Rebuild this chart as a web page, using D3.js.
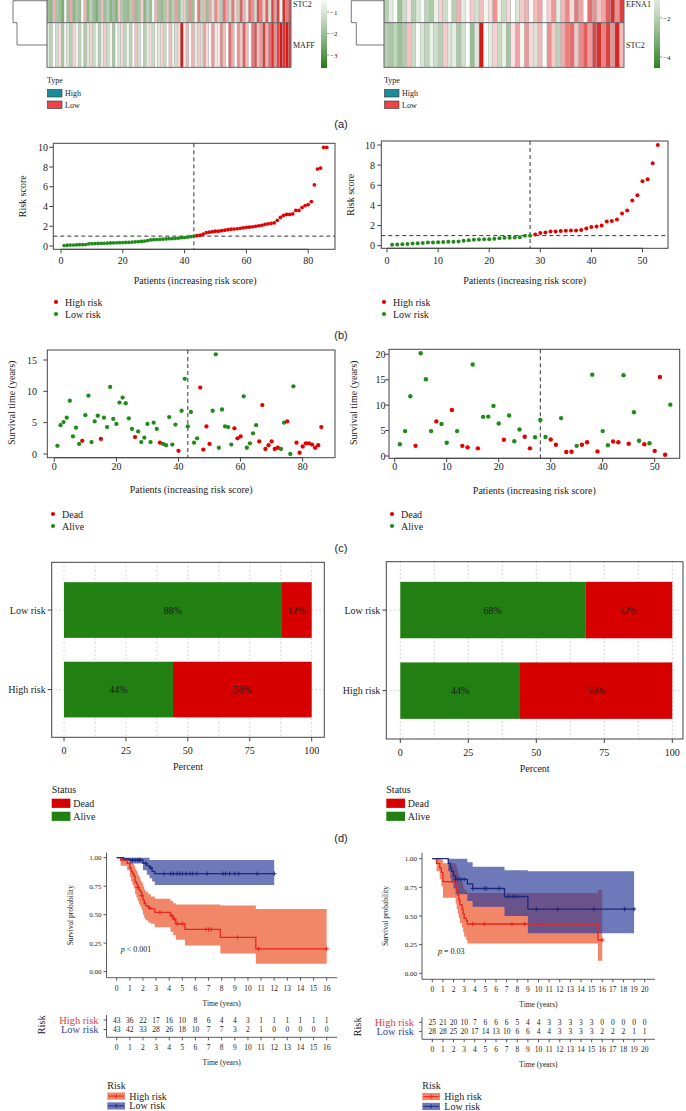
<!DOCTYPE html>
<html><head><meta charset="utf-8">
<script src="https://cdn.jsdelivr.net/npm/d3@7"></script>
<style>body{margin:0;background:#fff;} svg{display:block;}</style>
</head><body><svg id="c" width="686" height="1111"></svg>
<script>
// ---------------- DATA ----------------
// (a) heatmaps (expression per patient, ordered by risk)
const heatA_genes = ["STC2", "MAFF"];
const heatA_STC2 = [-2,-2.2,1,-1.8,-2,-2.5,-0.5,-2,1.2,-2.2,-1.8,-2,-0.3,1,-2.2,-1.5,-2,-2.4,-1.8,0.8,-2,-1.6,-2.2,-1.9,-2.3,0.6,-1.7,-2,-2.1,-1.6,1.2,-2,-1.8,0.5,-2.2,-1.5,-2,-0.4,1,-1.9,-2.1,-1.7,0.8,-2,-1.5,1.3,-2,-1.2,0.6,-1.8,1.5,-2,-0.5,1.8,-1.5,0.9,-2,1.2,-1,1.6,0.7,-1.6,2,1.2,-1.2,1.8,0.5,-1.5,2.2,1,-0.8,2,1.5,-1.2,2.4,1.8,0.6,2.2,-1,2.5,1.4,2.6,-0.6,2.8,1.8,2.4];
const heatA_MAFF = [-0.8,-1.5,-0.3,-1.2,0.3,-1.8,-0.5,-1,-1.6,0.4,-0.6,-1.4,-0.2,-1.7,-0.9,0.5,-1.3,-0.4,-1.6,-0.7,0.6,-1.2,-0.5,-1.8,-0.3,-1,0.4,-1.4,-0.6,-1.5,-0.2,0.7,-1.1,-0.4,-1.6,-0.8,0.3,-1.2,-0.5,-0.9,0.5,-1.3,-0.2,0.8,-0.7,-1.1,0.4,3,-0.6,0.9,-0.4,1,-0.8,0.6,-1,1.2,0.3,-0.5,1.4,0.2,-0.6,1.6,0.8,-0.3,2,1.1,-0.4,1.5,0.6,2.2,0.9,-0.2,1.8,2.4,0.7,1.3,2.6,1,2,2.8,1.5,2.5,3,2.7,3,2.6];
const heatB_genes = ["EFNA1", "STC2"];
const heatB_EFNA1 = [-2,-1,-0.3,-2.5,-1.5,0.2,-2,-1.2,-0.5,-1.8,-2.2,-0.8,0.5,-1.5,-0.4,-2,1,-1,-0.2,0.6,-1.4,0.8,-0.6,0.3,1.5,-0.8,-1.6,0.4,-0.3,-1.2,0.6,1.0,-0.5,0.8,1.2,-0.2,0.5,1.4,-1,0.9,1.6,0.3,1.8,1.2,-0.4,2,1.5,0.7,1.2,2.2,2.8,1.5,2.6];
const heatB_STC2 = [-2,-2.3,-1.8,-2.5,-2.1,0.8,-1.6,-0.5,-1.2,-1.8,-0.8,-1.5,-2,0.6,-1.2,-0.9,-2.2,-1.4,-0.3,-2.6,-1.1,3,-0.4,-1,0.5,-1.6,-0.8,-2.4,0.2,1.2,-0.6,1.4,0.4,-1.2,0.9,-0.3,1.5,0.6,-1.9,1.1,1.8,2,0.7,1.6,2.2,1.3,2.5,2.8,1.7,2.6,1.5,2.9,0.8];
const legendA_ticks = [-1, -2, -3];
const legendB_ticks = [-2, -4];
const typeLabels = ["High", "Low"];

// (b) risk scores
const riskA = [0.05,0.08,0.1,0.1,0.12,0.13,0.14,0.15,0.22,0.24,0.25,0.26,0.27,0.28,0.3,0.31,0.32,0.33,0.34,0.35,0.36,0.37,0.4,0.42,0.44,0.46,0.5,0.55,0.62,0.64,0.66,0.68,0.7,0.72,0.74,0.75,0.78,0.8,0.84,0.86,0.9,0.94,1.0,1.05,1.1,1.2,1.35,1.4,1.45,1.5,1.5,1.55,1.6,1.65,1.7,1.72,1.75,1.8,1.85,1.9,1.92,1.95,2.0,2.05,2.1,2.2,2.25,2.3,2.35,2.6,2.9,3.1,3.2,3.2,3.25,3.6,3.6,3.9,4.1,4.2,4.5,6.2,7.8,7.9,10,10];
const riskB = [0.1,0.12,0.15,0.18,0.22,0.25,0.28,0.32,0.33,0.35,0.36,0.38,0.4,0.42,0.5,0.55,0.6,0.62,0.63,0.65,0.7,0.75,0.78,0.8,0.82,0.85,0.98,1.0,1.1,1.25,1.3,1.4,1.42,1.45,1.48,1.5,1.52,1.55,1.7,1.85,1.9,2.0,2.4,2.45,2.6,3.2,3.5,4.5,5.0,6.4,6.6,8.2,10.0];
const cutA = 43, cutB = 28;
const riskCutoff = 1;

// (c) survival time and status (1 = dead)
const survA = [1.3,4.6,5.1,5.8,8.5,2.8,4.2,1.6,2.1,6.2,9.3,1.9,5.2,6.1,2.4,5.8,4.3,10.7,5.6,4.8,8.2,9.0,8.1,5.7,4.0,2.7,3.6,1.9,2.6,4.8,1.9,5.0,4.0,1.8,1.6,1.4,5.9,1.5,4.7,0.5,6.9,12.0,4.4,6.7,1.8,2.5,10.6,0.7,4.4,1.6,6.9,15.9,1.0,7.1,4.4,4.3,1.5,4.1,2.5,2.8,9.2,1.0,1.7,3.3,4.6,2.0,7.8,0.8,1.4,2.0,0.8,1.0,0.8,5.0,5.2,0.0,10.8,1.8,0.2,1.2,1.7,1.7,1.5,1.0,1.4,4.3];
const statusA = [0,0,0,0,0,0,0,0,1,0, 0,0,0,0,1,0,0,0,0,0, 0,0,0,0,0,1,0,0,0,0, 0,0,0,1,0,0,0,0,0,1, 0,0,0,0,0,0,1,1,1,1, 0,0,0,0,0,0,0,1,1,1, 0,0,0,0,0,1,1,1,1,1, 1,1,0,0,1,0,0,1,1,1, 1,1,1,1,1,1];
const survB = [2.3,4.9,11.75,2.0,20.2,15.1,4.9,6.8,6.3,2.6,9.05,4.9,2.0,1.7,18.0,1.5,7.7,7.75,9.85,6.4,3.2,7.95,2.9,5.2,3.8,1.5,3.7,7.1,3.75,3.25,2.2,7.45,0.8,0.85,2.0,2.2,2.7,16.0,0.9,4.9,2.1,2.85,2.7,15.9,2.4,8.6,3.0,2.3,2.5,1.0,15.55,0.25,10.1];
const statusB = [0,0,0,1,0,0,0,1,0,0, 1,0,1,1,0,1,0,0,0,0, 1,0,0,0,1,1,0,0,0,1, 1,0,1,1,0,1,1,0,1,0, 0,1,1,0,1,0,0,1,0,1, 1,1,0];

// (d) status percentages
const riskGroups = ["Low risk", "High risk"];
const aliveA = [88, 44], deadA = [12, 56];
const aliveB = [68, 44], deadB = [32, 56];
const pctTicks = [0, 25, 50, 75, 100];

// (e) Kaplan-Meier
const kmA_high_t  = [0,0.3,0.8,1.0,1.1,1.2,1.3,1.4,1.5,1.6,1.7,1.8,1.9,2.0,2.1,2.2,2.4,2.6,2.9,4.1,4.3,4.5,5.2,7.9,10.6,16];
const kmA_high_s  = [1.0,0.98,0.95,0.91,0.88,0.86,0.84,0.79,0.77,0.74,0.72,0.70,0.67,0.63,0.60,0.58,0.56,0.55,0.52,0.49,0.46,0.42,0.37,0.30,0.20,0.20];
const kmA_high_up = [1.0,1.0,1.0,0.99,0.97,0.95,0.93,0.90,0.88,0.85,0.83,0.80,0.78,0.75,0.72,0.70,0.68,0.66,0.64,0.62,0.60,0.59,0.59,0.58,0.55,0.55];
const kmA_high_lo = [1.0,0.93,0.89,0.83,0.79,0.76,0.73,0.68,0.65,0.62,0.59,0.57,0.54,0.50,0.47,0.45,0.43,0.42,0.39,0.35,0.32,0.28,0.23,0.16,0.07,0.07];
const kmA_high_cens = [1.6,1.9,2.5,3.3,4.2,4.4,4.6,5.0,6.8,7.0,7.2,9.2,10.8,16];
const kmA_low_t  = [0,0.5,1.0,2.0,2.3,2.5,2.7,2.9,12];
const kmA_low_s  = [1.0,0.99,0.98,0.95,0.93,0.91,0.88,0.86,0.86];
const kmA_low_up = [1.0,1.0,1.0,1.0,1.0,0.98,0.98,0.98,0.98];
const kmA_low_lo = [1.0,0.97,0.95,0.89,0.85,0.82,0.79,0.76,0.76];
const kmA_low_cens = [1.2,1.4,1.6,1.7,1.8,2.2,2.6,3.6,4.1,4.3,4.6,4.8,5.0,5.3,5.6,5.8,6.1,6.9,8.1,8.3,8.6,9.0,9.3,10.7,12];
const kmA_ticks = d3.range(0, 17);
const atRiskA_high = [43,36,22,17,16,10,8,6,4,4,3,1,1,1,1,1,1];
const atRiskA_low  = [43,42,33,28,26,18,10,7,7,3,2,1,0,0,0,0,0];
const pA = "< 0.001";

const kmB_high_t  = [0,0.4,0.7,0.85,1.0,2.2,2.3,2.4,2.5,2.6,2.8,2.9,3.0,3.2,3.3,15.6,16.0];
const kmB_high_s  = [1.0,0.96,0.92,0.88,0.80,0.76,0.72,0.68,0.64,0.60,0.56,0.52,0.48,0.46,0.43,0.29,0.29];
const kmB_high_up = [1.0,1.0,1.0,0.99,0.96,0.94,0.91,0.88,0.85,0.82,0.79,0.76,0.73,0.71,0.70,0.73,0.73];
const kmB_high_lo = [1.0,0.89,0.82,0.76,0.66,0.61,0.56,0.52,0.48,0.44,0.40,0.36,0.32,0.29,0.26,0.11,0.11];
const kmB_high_cens = [2.1,3.8,4.9,7.5,8.7,10.1,16];
const kmB_low_t  = [0,1.5,1.7,1.8,2.0,2.2,3.3,3.8,6.8,9.0,19];
const kmB_low_s  = [1.0,0.96,0.92,0.89,0.85,0.82,0.78,0.74,0.67,0.56,0.56];
const kmB_low_up = [1.0,1.0,1.0,1.0,1.0,1.0,0.97,0.93,0.90,0.89,0.89];
const kmB_low_lo = [1.0,0.89,0.83,0.79,0.74,0.69,0.63,0.58,0.50,0.35,0.35];
const kmB_low_cens = [2.2,2.4,2.7,3.0,3.8,4.9,5.1,6.3,7.2,7.6,7.9,9.8,11.8,15.2,18.1,19.0];
const kmB_ticks = d3.range(0, 21);
const atRiskB_high = [25,21,20,10,7,6,6,6,5,4,4,3,3,3,3,3,0,0,0,0,0];
const atRiskB_low  = [28,28,25,20,17,14,13,10,6,6,4,4,3,3,3,3,2,2,2,1,1];
const pB = "= 0.03";
const probTicks = [0, 0.25, 0.5, 0.75, 1];

// ---------------- DRAWING ----------------
const SERIF = '"Liberation Serif","DejaVu Serif",serif';
const SANS = '"Liberation Sans","DejaVu Sans",sans-serif';
const svg = d3.select("#c");
svg.append("rect").attr("width",686).attr("height",1111).attr("fill","#fff");

function txt(x, y, s, o = {}) {
  const t = svg.append("text").attr("x", x).attr("y", y).text(s)
    .attr("font-size", o.size || 10).attr("font-family", o.font || SERIF)
    .attr("fill", o.fill || "#222").attr("text-anchor", o.anchor || "start");
  if (o.rotate) t.attr("transform", `rotate(${o.rotate},${x},${y})`);
  if (o.style) t.attr("font-style", o.style);
  return t;
}
function line(x1, y1, x2, y2, o = {}) {
  return svg.append("line").attr("x1", x1).attr("y1", y1).attr("x2", x2).attr("y2", y2)
    .attr("stroke", o.stroke || "#333").attr("stroke-width", o.w || 1)
    .attr("stroke-dasharray", o.dash || null);
}

// ----- (a) heatmaps -----
function heatmap(cfg) {
  const n = cfg.rows[0].length;
  const xs = d3.scaleBand().domain(d3.range(n)).range([cfg.x0, cfg.x1]);
  const ys = d3.scaleBand().domain(d3.range(cfg.rows.length)).range([cfg.y0, cfg.y1]);
  cfg.rows.forEach((vals, ri) => {
    svg.append("g").selectAll("rect").data(vals).join("rect")
      .attr("x", (d, i) => xs(i)).attr("width", xs.bandwidth())
      .attr("y", ys(ri)).attr("height", ys.bandwidth())
      .attr("fill", d => cfg.color(d)).attr("stroke", "#a8a8a8").attr("stroke-width", 0.35);
    const ly = Math.max(ys(ri) + ys.bandwidth() / 2 + 3, 6.5);
    txt(cfg.x1 + 2, ly, cfg.genes[ri], {size: 8});
  });
  svg.append("rect").attr("x", cfg.x0).attr("y", cfg.y0).attr("width", cfg.x1 - cfg.x0)
    .attr("height", cfg.y1 - cfg.y0).attr("fill", "none").attr("stroke", "#555").attr("stroke-width", 0.8);
  line(cfg.x0, ys(1), cfg.x1, ys(1), {stroke: "#555", w: 0.8});
  // dendrogram
  const c0 = ys(0) + ys.bandwidth() / 2, c1 = ys(1) + ys.bandwidth() / 2;
  svg.append("path").attr("d", `M${cfg.x0},${Math.max(c0,0.7)} H${cfg.dx0} V${ys(1)} H${cfg.dx1} V${c1} H${cfg.x0}`)
    .attr("fill", "none").attr("stroke", "#555").attr("stroke-width", 0.8);
  // color legend
  const ly = cfg.legendScale;
  const g = svg.append("g");
  const yrange = d3.range(0, cfg.y1, 1);
  g.selectAll("rect").data(yrange).join("rect")
    .attr("x", cfg.lx).attr("width", 6).attr("y", d => d).attr("height", 1.1)
    .attr("fill", d => cfg.color(ly.invert(d + 0.5)));
  cfg.legendTicks.forEach(t => {
    line(cfg.lx + 6, ly(t), cfg.lx + 8, ly(t), {stroke: "#555", w: 0.6});
    txt(cfg.lx + 9, ly(t) + 2.5, "\u2212" + Math.abs(t), {size: 7});
  });
  // type legend
  txt(cfg.x0, 83, "Type", {size: 8});
  const tcol = ["#1b8a99", "#ec4446"];
  typeLabels.forEach((lab, i) => {
    svg.append("rect").attr("x", cfg.x0 + 0.5).attr("y", 89.5 + i * 11.5).attr("width", 14.5).attr("height", 7.5)
      .attr("fill", tcol[i]).attr("stroke", "#333").attr("stroke-width", 0.6);
    txt(cfg.x0 + 18, 96 + i * 11.5, lab, {size: 8});
  });
}
const heatColA = d3.scaleLinear().domain([-3.5, -0.3, 3]).range(["#2b7f1b", "#ffffff", "#d81818"]).interpolate(d3.interpolateRgb.gamma(1.3)).clamp(true);
const heatColB = d3.scaleLinear().domain([-4.6, -0.3, 3]).range(["#2b7f1b", "#ffffff", "#d81818"]).interpolate(d3.interpolateRgb.gamma(1.3)).clamp(true);
heatmap({x0: 47, x1: 291, y0: -22, y1: 67.3, rows: [heatA_STC2, heatA_MAFF], genes: heatA_genes,
  color: heatColA, dx0: 13, dx1: 17, lx: 321,
  legendScale: d3.scaleLinear().domain([-1, -3]).range([12, 55]), legendTicks: legendA_ticks});
heatmap({x0: 384, x1: 624, y0: -22, y1: 67.3, rows: [heatB_EFNA1, heatB_STC2], genes: heatB_genes,
  color: heatColB, dx0: 351.3, dx1: 356.3, lx: 654,
  legendScale: d3.scaleLinear().domain([-2, -4]).range([18, 57]), legendTicks: legendB_ticks});

// panel labels
[["(a)", 128], ["(b)", 339], ["(c)", 551.5], ["(d)", 841.5]].forEach(([s, y]) => txt(341, y, s, {size: 11, font: SANS, anchor: "middle"}));

// ----- (b)/(c) scatter panels -----
const RED = "#e50000", GREEN = "#1f8c1a";
function scatter(cfg) {
  const {box, xs, ys} = cfg;
  svg.append("rect").attr("x", box[0]).attr("y", box[1]).attr("width", box[2] - box[0]).attr("height", box[3] - box[1])
    .attr("fill", "none").attr("stroke", "#444").attr("stroke-width", 1);
  cfg.xTicks.forEach(t => {
    line(xs(t), box[3], xs(t), box[3] + 4, {stroke: "#444"});
    txt(xs(t), cfg.xlabY, t, {anchor: "middle"});
  });
  line(xs(cfg.xTicks[0]), box[3], xs(cfg.xTicks[cfg.xTicks.length - 1]), box[3], {stroke: "#444"});
  cfg.yTicks.forEach(t => {
    line(box[0] - 4, ys(t), box[0], ys(t), {stroke: "#444"});
    txt(cfg.ylabX, ys(t) + 3.5, t, {anchor: "end"});
  });
  txt((box[0] + box[2]) / 2 + cfg.titleDx, cfg.xtitleY, "Patients (increasing risk score)", {anchor: "middle"});
  txt(cfg.ytitleX, (box[1] + box[3]) / 2 + cfg.ytitleDy, cfg.ytitle, {anchor: "middle", rotate: -90});
  if (cfg.hline !== undefined) line(box[0], ys(cfg.hline), box[2], ys(cfg.hline), {stroke: "#333", dash: "4,3"});
  line(xs(cfg.cut), box[1], xs(cfg.cut), box[3], {stroke: "#333", dash: "4,3"});
  svg.append("g").selectAll("circle").data(cfg.values).join("circle")
    .attr("cx", (d, i) => xs(i + 1)).attr("cy", d => ys(d))
    .attr("r", cfg.r).attr("fill", (d, i) => cfg.colorOf(i));
  cfg.legend.forEach(([lab, col], i) => {
    svg.append("circle").attr("cx", cfg.legX).attr("cy", cfg.legY + i * 12).attr("r", 2.1).attr("fill", col);
    txt(cfg.legX + 9, cfg.legY + i * 12 + 3.5, lab);
  });
}
scatter({box: [53.3, 143.3, 335, 249.3], xs: d3.scaleLinear().domain([0, 80]).range([61, 308.2]),
  ys: d3.scaleLinear().domain([0, 10]).range([246, 147.3]), xTicks: [0, 20, 40, 60, 80], yTicks: [0, 2, 4, 6, 8, 10],
  xlabY: 263.5, ylabX: 48, xtitleY: 283.5, titleDx: 1, ytitleX: 26, ytitleDy: 0, ytitle: "Risk score",
  hline: riskCutoff, cut: cutA, values: riskA, r: 1.85, colorOf: i => i < cutA ? GREEN : RED,
  legend: [["High risk", RED], ["Low risk", GREEN]], legX: 56, legY: 302});
scatter({box: [381.3, 141, 668, 248.3], xs: d3.scaleLinear().domain([0, 50]).range([387, 642.5]),
  ys: d3.scaleLinear().domain([0, 10]).range([245.7, 145]), xTicks: [0, 10, 20, 30, 40, 50], yTicks: [0, 2, 4, 6, 8, 10],
  xlabY: 263.5, ylabX: 375, xtitleY: 283.5, titleDx: 0, ytitleX: 354, ytitleDy: 0, ytitle: "Risk score",
  hline: riskCutoff, cut: cutB, values: riskB, r: 2, colorOf: i => i < cutB ? GREEN : RED,
  legend: [["High risk", RED], ["Low risk", GREEN]], legX: 384, legY: 302});
scatter({box: [47.3, 350, 335, 457.7], xs: d3.scaleLinear().domain([0, 80]).range([54.3, 302.7]),
  ys: d3.scaleLinear().domain([0, 15]).range([454, 360]), xTicks: [0, 20, 40, 60, 80], yTicks: [0, 5, 10, 15],
  xlabY: 470, ylabX: 37, xtitleY: 492.5, titleDx: 0, ytitleX: 15.5, ytitleDy: -1, ytitle: "Survival time (years)",
  cut: cutA, values: survA, r: 2.15, colorOf: i => statusA[i] ? RED : GREEN,
  legend: [["Dead", RED], ["Alive", GREEN]], legX: 53, legY: 514});
scatter({box: [389, 349.3, 679.7, 458.3], xs: d3.scaleLinear().domain([0, 50]).range([394.7, 654.7]),
  ys: d3.scaleLinear().domain([0, 20]).range([456, 354.3]), xTicks: [0, 10, 20, 30, 40, 50], yTicks: [0, 5, 10, 15, 20],
  xlabY: 470, ylabX: 385.5, xtitleY: 494, titleDx: 0, ytitleX: 357, ytitleDy: -1, ytitle: "Survival time (years)",
  cut: cutB, values: survB, r: 2.2, colorOf: i => statusB[i] ? RED : GREEN,
  legend: [["Dead", RED], ["Alive", GREEN]], legX: 392, legY: 514});

// ----- (d) bar panels -----
const BRED = "#d60000", BGREEN = "#228012";
function bars(cfg) {
  const {box, xs} = cfg;
  const ys = d3.scaleBand().domain(riskGroups).range([box[1], box[3]]).paddingInner(0.3).paddingOuter(0.25);
  const grid = svg.append("g");
  d3.range(0, 100.1, 12.5).forEach(t => grid.append("line").attr("x1", xs(t)).attr("x2", xs(t)).attr("y1", box[1]).attr("y2", box[3])
    .attr("stroke", "#777").attr("stroke-width", 0.6).attr("stroke-dasharray", "1,3"));
  riskGroups.forEach(gp => grid.append("line").attr("x1", box[0]).attr("x2", box[2]).attr("y1", ys(gp) + ys.bandwidth() / 2)
    .attr("y2", ys(gp) + ys.bandwidth() / 2).attr("stroke", "#777").attr("stroke-width", 0.6).attr("stroke-dasharray", "1,3"));
  riskGroups.forEach((gp, i) => {
    const y = ys(gp), h = ys.bandwidth();
    svg.append("rect").attr("x", xs(0)).attr("y", y).attr("width", xs(cfg.alive[i]) - xs(0)).attr("height", h).attr("fill", BGREEN);
    svg.append("rect").attr("x", xs(cfg.alive[i])).attr("y", y).attr("width", xs(100) - xs(cfg.alive[i])).attr("height", h).attr("fill", BRED);
    txt(xs(cfg.alive[i] / 2), y + h / 2 + 3.5, cfg.alive[i] + "%", {anchor: "middle", fill: "#1a1a1a"});
    txt(xs(cfg.alive[i] + cfg.dead[i] / 2), y + h / 2 + 3.5, cfg.dead[i] + "%", {anchor: "middle", fill: "#1a1a1a"});
    line(box[0] - 4, y + h / 2, box[0], y + h / 2, {stroke: "#444"});
    txt(box[0] - 6, y + h / 2 + 3.5, gp, {anchor: "end"});
  });
  svg.append("rect").attr("x", box[0]).attr("y", box[1]).attr("width", box[2] - box[0]).attr("height", box[3] - box[1])
    .attr("fill", "none").attr("stroke", "#444").attr("stroke-width", 1);
  pctTicks.forEach(t => {
    line(xs(t), box[3], xs(t), box[3] + 4, {stroke: "#444"});
    txt(xs(t), box[3] + 17, t, {anchor: "middle"});
  });
  txt((box[0] + box[2]) / 2, box[3] + 33, "Percent", {anchor: "middle"});
  txt(box[0], 793, "Status");
  [["Dead", BRED], ["Alive", BGREEN]].forEach(([lab, col], i) => {
    svg.append("rect").attr("x", box[0]).attr("y", 798.7 + i * 13).attr("width", 18.7).attr("height", 9.2).attr("fill", col);
    txt(box[0] + 21.5, 807 + i * 13, lab);
  });
}
bars({box: [51.7, 562.3, 324.3, 737.3], xs: d3.scaleLinear().domain([0, 100]).range([64, 311.7]), alive: aliveA, dead: deadA});
bars({box: [386.3, 561.7, 683, 739], xs: d3.scaleLinear().domain([0, 100]).range([400.3, 672.3]), alive: aliveB, dead: deadB});

// ----- (e) Kaplan-Meier -----
const KRED = "#e8261e", KBLUE = "#1b2a7c";
function stepAt(t, ts, ss) { let v = ss[0]; ts.forEach((x, i) => { if (x <= t) v = ss[i]; }); return v; }
function km(cfg) {
  const {xs, ys} = cfg;
  const strata = cfg.strata;
  strata.forEach(st => {
    const pts = st.t.map((t, i) => ({t, u: st.up[i], l: st.lo[i]}));
    svg.append("path").datum(pts)
      .attr("d", d3.area().curve(d3.curveStepAfter).x(d => xs(d.t)).y0(d => ys(d.l)).y1(d => ys(d.u)))
      .attr("fill", st.fill).attr("fill-opacity", st.op);
  });
  strata.forEach(st => {
    const pts = st.t.map((t, i) => ({t, s: st.s[i]}));
    svg.append("path").datum(pts)
      .attr("d", d3.line().curve(d3.curveStepAfter).x(d => xs(d.t)).y(d => ys(d.s)))
      .attr("fill", "none").attr("stroke", st.line).attr("stroke-width", 1.3);
    st.cens.forEach(c => {
      const y = ys(stepAt(c, st.t, st.s)), x = xs(c);
      line(x - 2.2, y, x + 2.2, y, {stroke: st.line, w: 1});
      line(x, y - 2.2, x, y + 2.2, {stroke: st.line, w: 1});
    });
  });
  // axes
  const ax = "#333";
  line(cfg.ax0, cfg.ay0, cfg.ax0, cfg.ay1, {stroke: ax, w: 0.8});
  line(cfg.ax0, cfg.ay1, cfg.ax1, cfg.ay1, {stroke: ax, w: 0.8});
  probTicks.forEach(p => {
    line(cfg.ax0 - 3, ys(p), cfg.ax0, ys(p), {stroke: ax, w: 0.8});
    txt(cfg.ax0 - 5, ys(p) + 2.5, p.toFixed(2), {anchor: "end", size: 7});
  });
  cfg.ticks.forEach(t => {
    line(xs(t), cfg.ay1, xs(t), cfg.ay1 + 3, {stroke: ax, w: 0.8});
    txt(xs(t), cfg.ay1 + 13, t, {anchor: "middle", size: 7.5});
  });
  txt((cfg.ax0 + cfg.ax1) / 2, cfg.ay1 + 28, "Time (years)", {anchor: "middle", size: 7.5});
  txt(cfg.ylabX, (cfg.ay0 + cfg.ay1) / 2, "Survival probability", {anchor: "middle", size: 7.5, rotate: -90});
  const pt = txt(cfg.pX, cfg.pY, "", {size: 8});
  pt.append("tspan").attr("font-style", "italic").text("p");
  pt.append("tspan").text(" " + cfg.pText);
  // risk table
  const rt = cfg.rt;
  line(cfg.ax0, rt.y0, cfg.ax0, rt.axisY, {stroke: ax, w: 0.8});
  line(cfg.ax0, rt.axisY, cfg.ax1, rt.axisY, {stroke: ax, w: 0.8});
  [[strata[0], rt.rowY[0], "High risk"], [strata[1], rt.rowY[1], "Low risk"]].forEach(([st, y, lab]) => {
    line(cfg.ax0 - 3, y, cfg.ax0, y, {stroke: ax, w: 0.8});
    txt(cfg.ax0 - 8, y + 3.5, lab, {anchor: "end", size: 10.5, fill: st.textCol});
    svg.append("g").selectAll("text").data(st.atRisk).join("text")
      .attr("x", (d, i) => xs(cfg.ticks[i])).attr("y", y + 2.6).attr("text-anchor", "middle")
      .attr("font-size", 7.5).attr("font-family", SERIF).attr("fill", "#222").text(d => d);
  });
  txt(rt.riskX, (rt.rowY[0] + rt.rowY[1]) / 2, "Risk", {anchor: "middle", size: 10.5, rotate: -90});
  cfg.ticks.forEach(t => {
    line(xs(t), rt.axisY, xs(t), rt.axisY + 3, {stroke: ax, w: 0.8});
    txt(xs(t), rt.axisY + 13, t, {anchor: "middle", size: 7.5});
  });
  txt((cfg.ax0 + cfg.ax1) / 2, rt.axisY + 28, "Time (years)", {anchor: "middle", size: 7.5});
  // legend
  const lg = cfg.leg;
  txt(lg.x, lg.y, "Risk", {size: 10});
  strata.forEach((st, i) => {
    const by = lg.y + 4 + i * 9.8;
    svg.append("rect").attr("x", lg.x).attr("y", by).attr("width", 17.7).attr("height", 7.2)
      .attr("fill", st.fill).attr("fill-opacity", st.op);
    line(lg.x + 1, by + 3.6, lg.x + 16.7, by + 3.6, {stroke: st.line, w: 1});
    line(lg.x + 8.85, by + 1.6, lg.x + 8.85, by + 5.6, {stroke: st.line, w: 1});
    txt(lg.x + 22, by + 7, st.label, {size: 10});
  });
}
const HFILL = "#ea4c22", LFILL = "#2a3a9a";
km({xs: d3.scaleLinear().domain([0, 16]).range([116.7, 326.7]), ys: d3.scaleLinear().domain([0, 1]).range([971.6, 857.7]),
  ax0: 106.5, ax1: 337, ay0: 852.7, ay1: 977.7, ticks: kmA_ticks, ylabX: 73, pX: 120.7, pY: 952, pText: pA,
  strata: [
    {t: kmA_high_t, s: kmA_high_s, up: kmA_high_up, lo: kmA_high_lo, cens: kmA_high_cens, line: KRED, fill: HFILL, op: 0.68, atRisk: atRiskA_high, textCol: "#e8393a", label: "High risk"},
    {t: kmA_low_t, s: kmA_low_s, up: kmA_low_up, lo: kmA_low_lo, cens: kmA_low_cens, line: KBLUE, fill: LFILL, op: 0.68, atRisk: atRiskA_low, textCol: "#3344a0", label: "Low risk"}],
  rt: {y0: 1015, axisY: 1037.3, rowY: [1020, 1029.5], riskX: 45},
  leg: {x: 107.3, y: 1088.5}});
km({xs: d3.scaleLinear().domain([0, 20]).range([432.3, 644.7]), ys: d3.scaleLinear().domain([0, 1]).range([973.3, 858.7]),
  ax0: 422, ax1: 655, ay0: 852.7, ay1: 979.3, ticks: kmB_ticks, ylabX: 387.5, pX: 438, pY: 954, pText: pB,
  strata: [
    {t: kmB_high_t, s: kmB_high_s, up: kmB_high_up, lo: kmB_high_lo, cens: kmB_high_cens, line: KRED, fill: HFILL, op: 0.68, atRisk: atRiskB_high, textCol: "#e8393a", label: "High risk"},
    {t: kmB_low_t, s: kmB_low_s, up: kmB_low_up, lo: kmB_low_lo, cens: kmB_low_cens, line: KBLUE, fill: LFILL, op: 0.68, atRisk: atRiskB_low, textCol: "#3344a0", label: "Low risk"}],
  rt: {y0: 1017, axisY: 1039.3, rowY: [1022.3, 1031.6], riskX: 361},
  leg: {x: 422.3, y: 1089}});
</script></body></html>
